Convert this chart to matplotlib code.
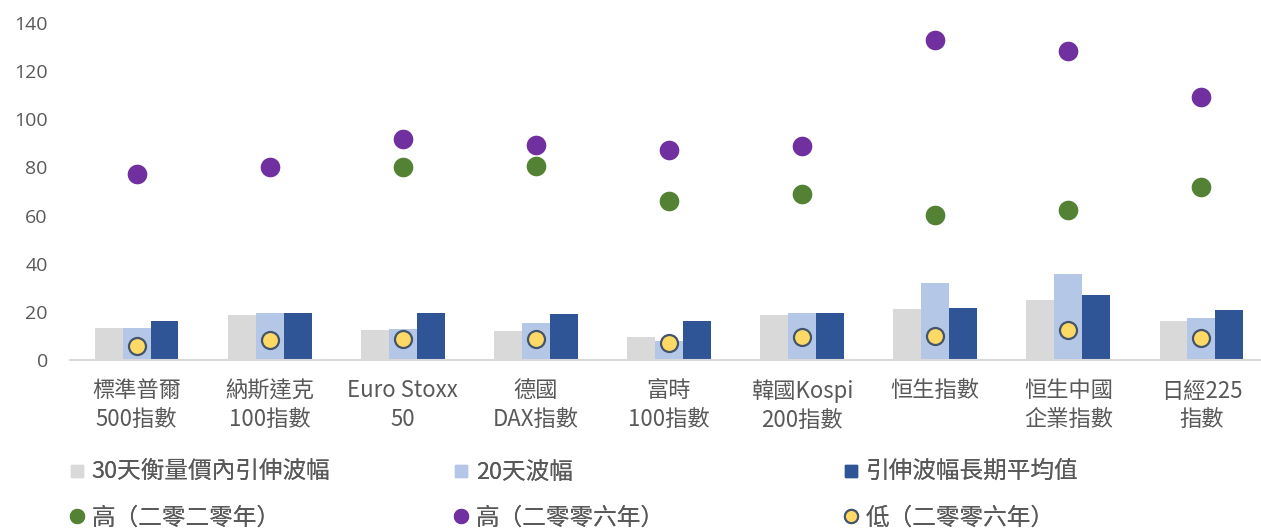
import numpy as np
import matplotlib.pyplot as plt
from matplotlib.lines import Line2D

# index names (x categories)
categories = ['標準普爾\n500指數', '納斯達克\n100指數', 'Euro Stoxx\n50', '德國\nDAX指數',
              '富時\n100指數', '韓國Kospi\n200指數', '恒生指數', '恒生中國\n企業指數', '日經225\n指數']

# bar series
implied_30d = [13.3, 18.7, 12.5, 12.2, 9.4, 18.6, 21.3, 24.9, 16.2]
realized_20d = [13.3, 19.4, 13.0, 15.2, 8.0, 19.4, 32.1, 35.6, 17.4]
long_term_avg = [16.2, 19.5, 19.5, 19.3, 16.1, 19.5, 21.6, 26.9, 20.8]

# point series
high_2020 = [np.nan, np.nan, 80.2, 80.6, 66.1, 69.0, 60.2, 62.3, 71.9]
high_2006 = [77.3, 80.2, 91.8, 89.3, 87.2, 88.9, 132.9, 128.4, 109.3]
low_2006 = [6.0, 8.3, 8.7, 8.9, 6.9, 9.4, 10.0, 12.5, 9.0]

labels = ['30天衡量價內引伸波幅', '20天波幅', '引伸波幅長期平均值',
          '高（二零二零年）', '高（二零零六年）', '低（二零零六年）']

c_gray = '#D9D9D9'
c_light = '#B4C7E7'
c_dark = '#2F5597'
c_green = '#548235'
c_purple = '#7030A0'
c_yellow = '#FFD966'
c_edge = '#44546A'
txt = '#595959'
cjk = ['Noto Sans CJK TC', 'DejaVu Sans']

fig = plt.figure(figsize=(12.61, 5.29), dpi=100)
ax = fig.add_axes([70 / 1261, 1 - 360 / 529, 1198 / 1261, 337 / 529])

x = np.arange(len(categories))
w = 0.21
ax.bar(x - w, implied_30d, w, color=c_gray, zorder=2)
ax.bar(x, realized_20d, w, color=c_light, zorder=2)
ax.bar(x + w, long_term_avg, w, color=c_dark, zorder=2)

ax.scatter(x, high_2020, s=200, color=c_green, zorder=3, linewidths=0)
ax.scatter(x, high_2006, s=200, color=c_purple, zorder=3, linewidths=0)
ax.scatter(x, low_2006, s=150, color=c_yellow, edgecolors=c_edge, linewidths=1.6, zorder=4)

ax.set_xlim(-0.5, len(categories) - 0.5)
ax.set_ylim(0, 140)
ax.set_yticks(range(0, 141, 20))
ax.set_xticks(x)
ax.set_xticklabels(categories, fontsize=16, color=txt, family=cjk, linespacing=1.3,
                   fontweight='light')
for t in ax.get_yticklabels():
    t.set_fontsize(14)
    t.set_color(txt)
    t.set_family(['Open Sans', 'DejaVu Sans'])
ax.tick_params(axis='both', length=0)
ax.tick_params(axis='x', pad=14)
ax.tick_params(axis='y', pad=16)
for s in ['top', 'right', 'left']:
    ax.spines[s].set_visible(False)
ax.spines['bottom'].set_color(c_gray)
ax.spines['bottom'].set_linewidth(1.5)

# legend, three columns placed by hand
handles = [
    Line2D([], [], ls='', marker='s', ms=9, color=c_gray),
    Line2D([], [], ls='', marker='s', ms=9, color=c_light),
    Line2D([], [], ls='', marker='s', ms=9, color=c_dark),
    Line2D([], [], ls='', marker='o', ms=10, color=c_green),
    Line2D([], [], ls='', marker='o', ms=10, color=c_purple),
    Line2D([], [], ls='', marker='o', ms=9.5, mfc=c_yellow, mec=c_edge, mew=1.5),
]
col_x = [68, 452, 842]
for i in range(3):
    leg = fig.legend([handles[i], handles[i + 3]], [labels[i], labels[i + 3]],
                     loc='upper left', bbox_to_anchor=(col_x[i] / 1261, 1 - 461 / 529),
                     frameon=False, handlelength=0.8, handletextpad=0.2, borderpad=0,
                     borderaxespad=0, labelspacing=0.95,
                     prop={'family': cjk, 'size': 17, 'weight': 'light'})
    for t in leg.get_texts():
        t.set_color(txt)
    fig.add_artist(leg)

fig.savefig('out.png', dpi=100)
